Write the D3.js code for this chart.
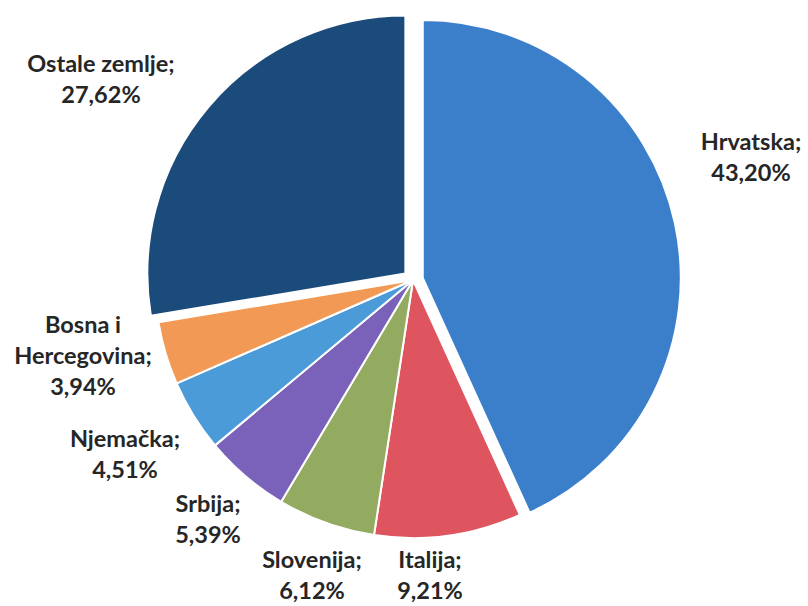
<!DOCTYPE html>
<html>
<head>
<meta charset="utf-8">
<script src="https://cdn.jsdelivr.net/npm/d3@7"></script>
<style>
  html, body { margin: 0; padding: 0; background: #fff; }
  svg { display: block; }
  text { font-family: Lato, "Open Sans", sans-serif; font-weight: bold; fill: #262626; }
</style>
</head>
<body>
<svg id="chart" width="808" height="606"></svg>
<script>
// ---- data ----
const categories = ["Hrvatska", "Italija", "Slovenija", "Srbija", "Njemačka", "Bosna i Hercegovina", "Ostale zemlje"];
const values = [43.20, 9.21, 6.12, 5.39, 4.51, 3.94, 27.62];
const valueLabels = ["43,20%", "9,21%", "6,12%", "5,39%", "4,51%", "3,94%", "27,62%"];
const nameLines = [["Hrvatska;"], ["Italija;"], ["Slovenija;"], ["Srbija;"], ["Njemačka;"], ["Bosna i", "Hercegovina;"], ["Ostale zemlje;"]];
const exploded = [true, false, false, false, false, false, true];

// ---- layout / style ----
const colors = ["#3b7fcb", "#de5560", "#93ab60", "#7a62ba", "#4b9bd8", "#f29a55", "#1a4b7a"];
const cx = 413, cy = 280, R = 258, explodeDist = 10;
const labelAnchor = [[751, 150], [430, 568], [312, 568], [208, 512], [125, 447], [83, 333], [101, 72]];
const lineH = 31;

const svg = d3.select("#chart");
const pie = d3.pie().sort(null).value(d => d.v);
const arcs = pie(values.map((v, i) => ({ v, i })));
const arc = d3.arc().innerRadius(0).outerRadius(R);

const g = svg.append("g").attr("transform", `translate(${cx},${cy})`);
g.selectAll("path")
  .data(arcs)
  .join("path")
  .attr("d", arc)
  .attr("fill", d => colors[d.data.i])
  .attr("stroke", "#fff")
  .attr("stroke-width", 2)
  .attr("stroke-linejoin", "round")
  .attr("transform", d => {
    if (!exploded[d.data.i]) return null;
    const a = (d.startAngle + d.endAngle) / 2;
    return `translate(${explodeDist * Math.sin(a)},${-explodeDist * Math.cos(a)})`;
  });

const labels = svg.append("g");
arcs.forEach(d => {
  const i = d.data.i;
  const [x, y] = labelAnchor[i];
  const lines = nameLines[i].concat([valueLabels[i]]);
  const t = labels.append("text")
    .attr("text-anchor", "middle")
    .attr("font-size", 23.5);
  lines.forEach((ln, k) => {
    t.append("tspan").attr("x", x).attr("y", y + k * lineH).text(ln);
  });
});
</script>
</body>
</html>
